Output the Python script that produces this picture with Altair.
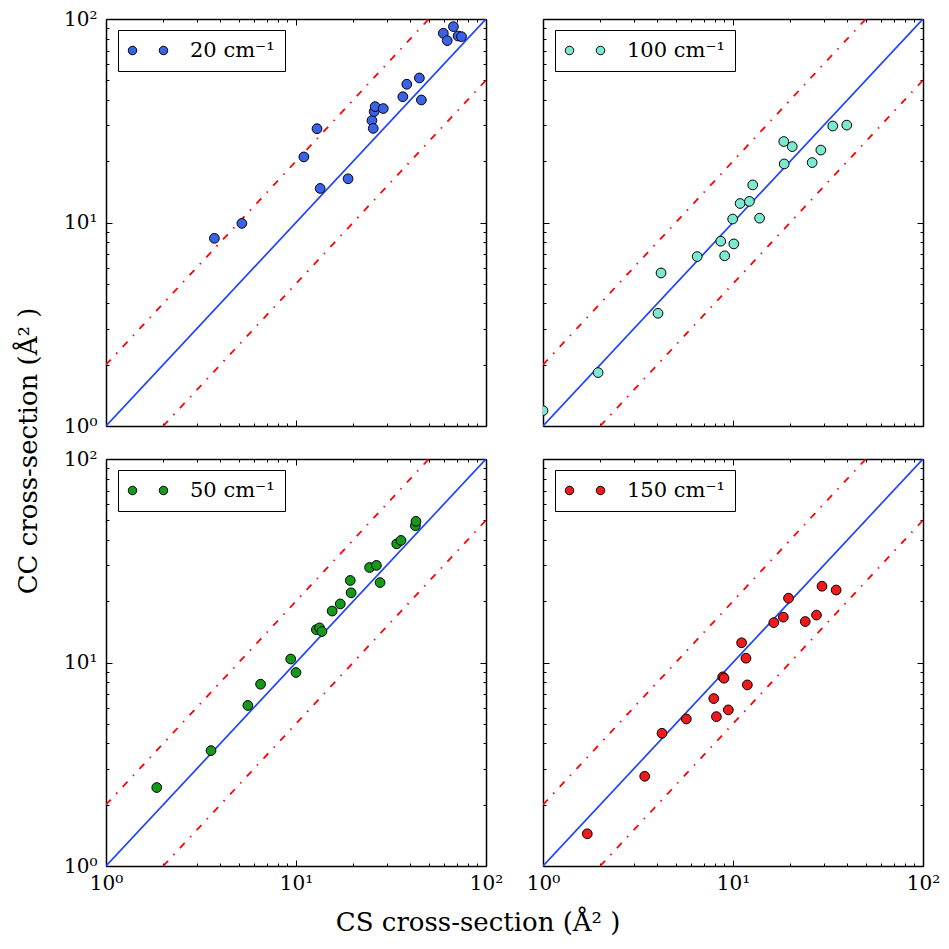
import altair as alt
import pandas as pd

# ---- data (CS cross-section vs CC cross-section, Å^2) ----
x20 = [3.72, 5.19, 11.0, 12.9, 13.4, 18.8, 25.1, 25.5, 25.8, 26.1, 28.8, 36.5, 38.3, 44.6, 45.7, 59.6, 62.5, 67.4, 71.3, 74.3]
y20 = [8.36, 9.9, 21.0, 28.9, 14.7, 16.4, 31.7, 29.0, 35.1, 37.1, 36.3, 41.5, 47.8, 51.3, 40.0, 85.1, 78.3, 91.7, 82.5, 81.9]

x100 = [1.0, 1.95, 4.03, 4.18, 6.48, 8.62, 9.04, 10.1, 9.96, 10.9, 12.2, 12.7, 13.8, 18.5, 18.6, 20.5, 26.1, 29.0, 33.5, 39.7]
y100 = [1.19, 1.83, 3.58, 5.65, 6.80, 8.09, 6.86, 7.85, 10.4, 12.4, 12.7, 15.3, 10.5, 25.0, 19.4, 23.6, 19.7, 22.7, 29.8, 30.1]

x50 = [1.85, 3.57, 5.58, 6.51, 9.38, 10.0, 12.8, 13.3, 13.7, 15.5, 17.1, 19.3, 19.5, 24.4, 26.5, 27.7, 33.9, 35.7, 42.5, 42.8]
y50 = [2.43, 3.69, 6.15, 7.82, 10.4, 8.93, 14.5, 14.8, 14.2, 17.9, 19.4, 25.3, 22.0, 29.3, 30.0, 24.7, 38.3, 39.8, 47.0, 49.4]

x150 = [1.71, 3.43, 4.23, 5.68, 7.92, 8.18, 8.83, 8.97, 9.45, 11.1, 11.7, 11.9, 16.4, 18.4, 19.6, 24.0, 27.5, 29.4, 34.9]
y150 = [1.44, 2.76, 4.49, 5.28, 6.65, 5.42, 8.50, 8.37, 5.85, 12.5, 10.5, 7.76, 15.7, 16.7, 20.7, 15.9, 17.1, 23.7, 22.7]

labels = ["20 cm⁻¹", "100 cm⁻¹", "50 cm⁻¹", "150 cm⁻¹"]
colors = ["#3a62e8", "#7be9cf", "#15991a", "#f01a1a"]

# reference lines: y = x, y = 2x, y = x/2
diag_x, diag_y = [1, 100], [1, 100]
up_x, up_y = [1, 50], [2, 100]
dn_x, dn_y = [2, 100], [1, 50]

major = [1, 10, 100]
minor = [2, 3, 4, 5, 6, 7, 8, 9, 20, 30, 40, 50, 60, 70, 80, 90]
LBL = "datum.value == 1 ? '10⁰' : (datum.value == 10 ? '10¹' : '10²')"

SERIF = "DejaVu Serif"
BLUE = "#1f43ff"
W, H = 380, 407
DASH = [7, 8, 1.5, 8]

LEG_PATH = ("M-2.05,0 A0.85,0.85 0 1,1 -0.35,0 A0.85,0.85 0 1,1 -2.05,0 Z "
            "M4.15,0 A0.85,0.85 0 1,1 5.85,0 A0.85,0.85 0 1,1 4.15,0 Z")


def axis(orient, values, size, show_labels, pad, domain):
    kw = dict(orient=orient, values=values, tickSize={"expr": str(-size)},
              tickColor="black", tickWidth=1, grid=False, domain=domain,
              title=None, labels=show_labels, minExtent=0)
    if domain:
        kw.update(domainColor="black", domainWidth=1.5)
    if show_labels:
        kw.update(labelExpr=LBL, labelFont=SERIF, labelFontSize=20,
                  labelColor="black", labelFlush=False, labelOverlap=False,
                  labelPadding=pad)
    else:
        kw.update(maxExtent=0)
    return alt.Axis(**kw)


def panel(i, xs, ys, show_x, show_y):
    sc = alt.Scale(type="log", domain=[1, 100], nice=False)
    pts = pd.DataFrame({"cs": xs, "cc": ys, "s": labels[i]})

    def enc(xax, yax):
        return dict(x=alt.X("cs:Q", scale=sc, axis=xax),
                    y=alt.Y("cc:Q", scale=sc, axis=yax))

    diag = alt.Chart(pd.DataFrame({"cs": diag_x, "cc": diag_y})).mark_line(
        clip=True, color=BLUE, strokeWidth=1.7).encode(
        **enc(axis("bottom", minor, 3, False, 0, False),
              axis("left", minor, 3, False, 0, False)))
    up = alt.Chart(pd.DataFrame({"cs": up_x, "cc": up_y})).mark_line(
        clip=True, color="red", strokeWidth=1.8, strokeDash=DASH).encode(
        **enc(axis("top", major, 6, False, 0, True),
              axis("right", major, 6, False, 0, True)))
    dn = alt.Chart(pd.DataFrame({"cs": dn_x, "cc": dn_y})).mark_line(
        clip=True, color="red", strokeWidth=1.8, strokeDash=DASH).encode(
        **enc(axis("top", minor, 3, False, 0, False),
              axis("right", minor, 3, False, 0, False)))
    e = enc(axis("bottom", major, 6, show_x, 13, True),
            axis("left", major, 6, show_y, 15, True))
    p = alt.Chart(pts).mark_circle(size=95, opacity=1, stroke="black",
                                   strokeWidth=1, clip=True).encode(
        color=alt.Color("s:N", scale=alt.Scale(range=[colors[i]]),
                        legend=alt.Legend(orient="none", legendX=12, legendY=11,
                                          title=None,
                                          symbolType=LEG_PATH, symbolSize=100,
                                          symbolStrokeColor="black",
                                          symbolStrokeWidth=1, symbolOpacity=1,
                                          labelFont=SERIF, labelFontSize=21,
                                          labelColor="black", labelOffset=41,
                                          strokeColor="black", fillColor="white",
                                          padding=10, cornerRadius=0)),
        **e)
    return alt.layer(diag, up, dn, p).resolve_axis(
        x="independent", y="independent").properties(width=W, height=H)


grid = alt.concat(
    panel(0, x20, y20, False, True), panel(1, x100, y100, False, False),
    panel(2, x50, y50, True, True), panel(3, x150, y150, True, False),
    columns=2, spacing={"row": 33, "column": 57}, bounds="flush",
    title=alt.TitleParams("CC cross-section (Å² )", orient="left",
                          anchor="middle", font=SERIF, fontSize=26,
                          fontWeight="normal", color="black", offset=21)
).resolve_scale(color="independent")

chart = alt.hconcat(grid, title=alt.TitleParams("CS cross-section (Å² )", orient="bottom",
                                                anchor="middle", font=SERIF, fontSize=26,
                                                fontWeight="normal", color="black",
                                                offset=16)).resolve_scale(
    color="independent").configure_view(stroke="black", strokeWidth=1).configure(
    background="white", padding={"left": 8, "top": 0, "right": 0, "bottom": 0})

chart.save("out.html", embed_options={"renderer": "svg", "actions": False})
